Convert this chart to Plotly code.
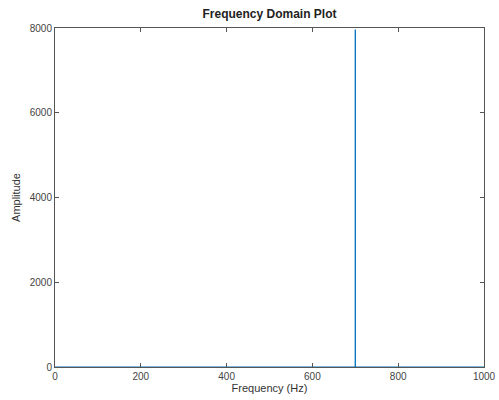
import plotly.graph_objects as go

freq_hz = [0, 700, 700, 700, 1000]
amplitude = [0, 0, 7960, 0, 0]
x_ticks = [0, 200, 400, 600, 800, 1000]
y_ticks = [0, 2000, 4000, 6000, 8000]

FONT = "Liberation Sans, Arial, Helvetica"

fig = go.Figure()
fig.add_trace(go.Scatter(x=freq_hz, y=amplitude, mode="lines",
                         line=dict(color="#0072BD", width=1), showlegend=False))

axis_common = dict(showline=True, linecolor="#555555", linewidth=1, mirror="allticks",
                   ticks="inside", ticklen=4, tickcolor="#555555", showgrid=False,
                   zeroline=False, automargin=False,
                   tickfont=dict(family=FONT, size=10, color="#444444"))

fig.update_layout(
    width=499, height=400,
    margin=dict(l=55, r=15, t=28, b=33),
    paper_bgcolor="white", plot_bgcolor="white",
    title=dict(text="<b>Frequency Domain Plot</b>", xref="paper", x=0.5, xanchor="center",
               yref="container", y=0.965, yanchor="middle",
               font=dict(family=FONT, size=12, color="#222222")),
    xaxis=dict(range=[0, 1000], tickvals=x_ticks, ticktext=[str(v) for v in x_ticks],
               title=dict(text="Frequency (Hz)", standoff=1,
                          font=dict(family=FONT, size=11, color="#333333")),
               **axis_common),
    yaxis=dict(range=[0, 8000], tickvals=y_ticks, ticktext=[str(v) for v in y_ticks],
               title=dict(text="Amplitude", standoff=6,
                          font=dict(family=FONT, size=11, color="#333333")),
               **axis_common),
)
fig.write_html("out.html", config={"displayModeBar": False},
               post_script="document.body.style.margin='0';document.body.style.overflow='hidden';")
